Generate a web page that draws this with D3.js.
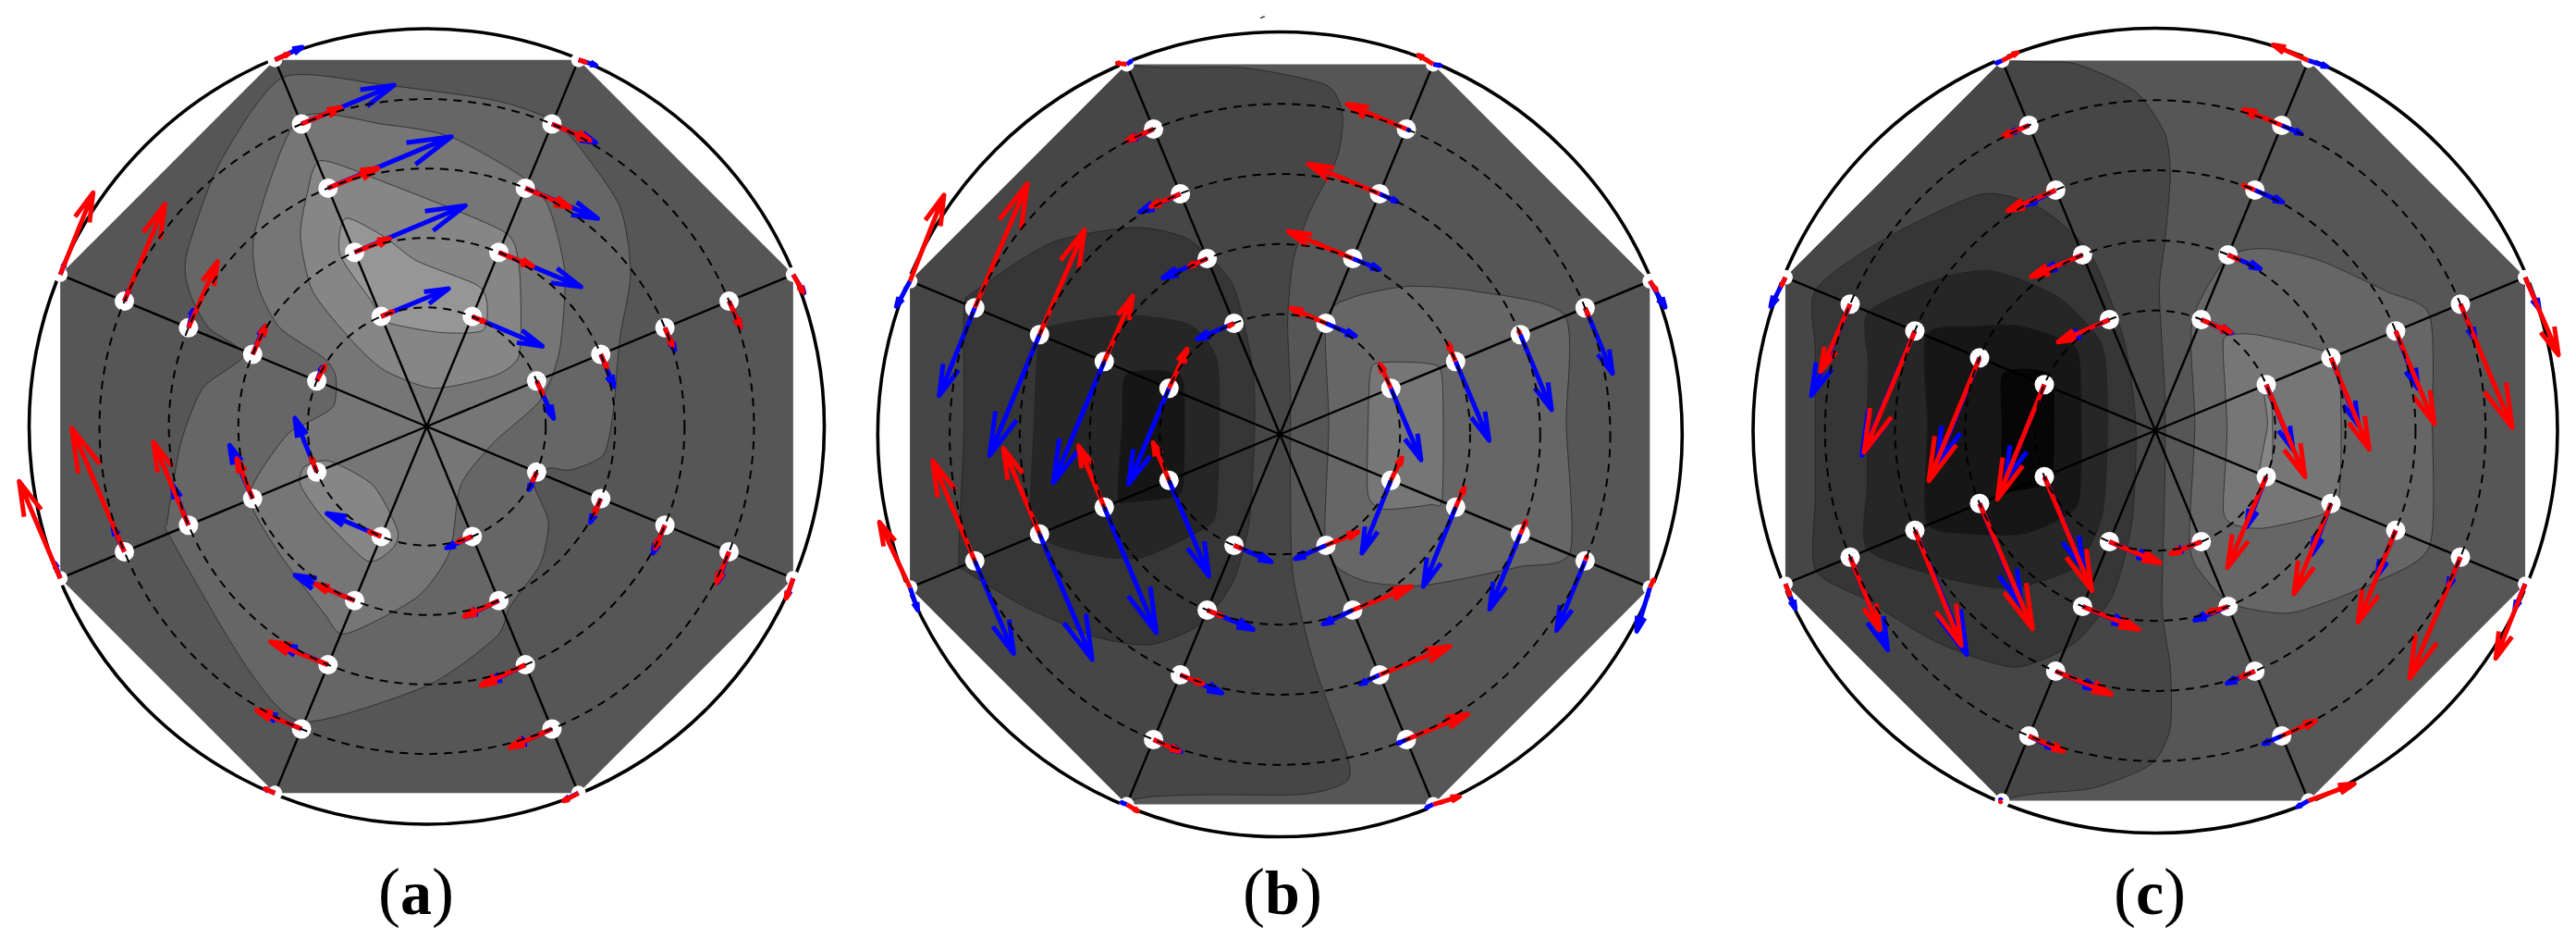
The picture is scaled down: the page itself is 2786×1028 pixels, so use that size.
<!DOCTYPE html>
<html><head><meta charset="utf-8">
<script src="https://cdn.jsdelivr.net/npm/d3@7"></script>
<style>html,body{margin:0;padding:0;background:#fff}svg{display:block}</style>
</head><body><script>
// Radial / angular layout of the measurement grid
const ringFractions=[0.3,0.475,0.65,0.825,1];
const spokeAngles=[67.5,22.5,-22.5,-67.5,-112.5,-157.5,157.5,112.5];
const panelLabels=["a","b","c"];
// Field values (one row per spoke, one entry per ring)
const aBlueU=[128,150,132,80,32, 31,24,18,21,20, -14,-19,-22,-21,-11, -47,-60,-68,-72,-25, -99,-109,-87,-68,-18, -40,-42,-30,-21,-10, 10,21,8,9,8, 123,202,225,169,50];
const aBlueV=[49,57,50,31,9, 62,53,37,43,30, 29,39,46,51,30, 19,26,30,29,11, -38,-42,-33,-26,-7, -89,-88,-67,-41,-25, -23,-45,-29,-20,-18, -46,-77,-85,-64,-21];
const aRedU=[23,62,82,70,13, 11,11,14,21,18, -7,-12,-18,-23,-13, -27,-63,-81,-77,-27, -22,-71,-105,-82,-18, -10,-29,-64,-96,-75, 15,24,53,74,60, 21,64,91,72,25];
const aRedV=[9,23,32,27,4, 22,22,30,43,29, 14,25,38,51,33, 9,26,34,31,13, -8,-27,-38,-31,-7, -24,-66,-137,-204,-160, -25,-47,-109,-160,-135, -8,-23,-33,-27,-10];
const bBlueU=[54,49,32,5,13, 55,61,57,50,28, -53,-59,-56,-52,-24, -56,-54,-35,-15,-12, 68,84,76,50,-9, 73,95,96,71,14, -74,-93,-91,-65,-25, -67,-81,-74,-45,8];
const bBlueV=[21,18,13,2,2, 118,130,124,108,43, 120,131,124,115,72, 22,23,15,6,5, 27,32,30,20,-3, 158,207,207,153,37, 158,200,199,145,42, 26,32,30,19,-5];
const bRedU=[-64,-118,-130,-108,-27, -20,-14,-3,6,12, 20,16,10,3,7, 59,107,128,112,48, 13,27,41,47,20, -29,-47,-66,-77,-56, 33,52,82,96,62, -10,-33,-54,-48,-17];
const bRedV=[-25,-45,-49,-41,-15, -40,-30,-6,13,15, -37,-32,-21,-7,-13, -22,-39,-47,-42,-13, 5,10,15,19,11, -62,-101,-141,-165,-108, -65,-108,-173,-205,-142, 5,13,21,19,-2];
const cBlueU=[56,59,51,36,34, 49,50,41,27,26, -36,-35,-34,-23,-19, -51,-61,-51,-33,-20, 78,83,77,46,-3, 72,77,95,69,18, -71,-78,-97,-71,-27, -82,-72,-53,-34,-10];
const cBlueV=[22,23,20,14,10, 107,111,95,59,53, 83,84,75,50,41, 18,23,20,13,10, 30,31,30,21,-2, 153,169,205,153,41, 157,176,205,151,48, 34,28,24,13,4];
const cRedU=[54,19,-21,-70,-65, 71,70,71,95,61, -71,-68,-69,-93,-54, -56,-36,-26,62,84, 93,103,102,64,-3, 87,97,85,54,8, -86,-93,-93,-54,-7, -94,-94,-88,-47,28];
const cRedV=[21,8,-8,-26,-26, 152,151,153,204,128, 150,149,152,200,123, 20,10,10,-25,-28, 35,38,38,25,2, 188,207,190,120,18, 189,203,200,111,13, 37,36,34,18,-13];
// Contour outlines of the background scalar field: level, then outline
const aLevels=[1,2,3,4,3];
const aContours=[
 [[515,128],[700,140],[900,165],[1000,195],[1050,235],[1130,340],[1150,450],[1130,560],[1118,680],[1100,750],[1040,775],[1000,772],[972,795],[1000,860],[985,930],[930,1000],[905,1050],[780,1130],[553,1190],[450,1100],[310,885],[305,860],[330,730],[370,640],[445,585],[380,540],[345,480],[340,420],[400,270]],
 [[545,195],[700,205],[820,225],[950,290],[1000,340],[1030,450],[1020,580],[985,660],[900,730],[840,800],[820,910],[760,985],[630,1045],[590,1010],[500,900],[455,815],[520,720],[560,697],[608,670],[612,620],[590,590],[510,540],[470,470],[465,380]],
 [[585,265],[700,300],[915,380],[945,430],[950,520],[945,590],[900,620],[790,640],[700,610],[640,560],[570,480],[548,390],[560,320]],
 [[630,360],[700,390],[760,430],[870,470],[888,500],[880,545],[800,548],[700,530],[680,500],[620,420]],
 [[555,770],[600,760],[680,800],[725,875],[715,905],[670,925],[590,855],[548,800]]
];
const bLevels=[-1,-2,-3,-4,1,2];
const bContours=[
 [[495,107],[700,112],[850,140],[880,190],[870,260],[820,350],[790,430],[780,530],[785,650],[785,800],[790,950],[830,1100],[890,1250],[885,1290],[800,1310],[500,1318],[300,1420],[-100,1400],[-100,100],[300,40]],
 [[210,480],[350,400],[500,375],[600,395],[680,470],[715,600],[720,700],[710,860],[680,960],[620,1030],[530,1063],[430,1050],[300,1000],[190,940],[180,920],[190,700],[190,510]],
 [[340,540],[480,520],[600,535],[650,590],[655,700],[650,840],[630,870],[510,920],[400,910],[315,870],[318,700],[325,570]],
 [[483,620],[540,610],[585,620],[592,660],[590,800],[570,820],[490,828],[470,820],[478,700]],
 [[850,525],[900,490],[1000,472],[1120,480],[1285,520],[1288,700],[1295,910],[1200,935],[1030,965],[930,960],[870,935],[848,880],[855,700]],
 [[930,620],[950,598],[1040,600],[1062,625],[1062,820],[1040,832],[960,840],[935,830],[925,800]]
];
const cLevels=[-1,-2,-3,-4,-5,1,2,3];
const cContours=[
 [[530,98],[650,105],[760,150],[815,220],[825,290],[815,400],[805,480],[815,650],[815,800],[810,1000],[825,1100],[825,1200],[790,1260],[680,1300],[525,1318],[300,1420],[-100,1400],[-100,100],[300,40]],
 [[175,478],[300,395],[480,320],[590,345],[680,420],[740,560],[762,700],[755,860],[720,980],[650,1060],[540,1100],[400,1060],[270,990],[175,940],[175,820],[175,700],[175,580]],
 [[272,515],[400,460],[500,447],[620,490],[700,570],[710,700],[700,850],[650,935],[530,970],[400,950],[270,905],[270,800],[270,700],[272,600]],
 [[378,552],[470,538],[550,537],[640,565],[660,600],[662,780],[650,840],[560,880],[450,880],[378,860],[380,700]],
 [[515,620],[550,607],[610,625],[612,780],[600,800],[530,812],[515,805],[515,700]],
 [[930,425],[1000,410],[1100,430],[1220,480],[1300,520],[1305,700],[1300,900],[1200,960],[1050,1010],[950,1000],[920,985],[870,930],[860,880],[870,700],[865,530]],
 [[927,554],[983,552],[1107,579],[1133,600],[1138,712],[1133,823],[1101,849],[995,871],[939,864],[922,839],[929,712],[922,584]],
 [[997,648],[1011,671],[1011,762],[989,773],[1003,701]]
];
const levelDomain=[-5,4];
const grayRange=[6,150];
// small stray mark printed above panel (b), in that panel's field units
const bSpeck=[[730,30],[738,27]];

const W=2786,H=1028;
const panels=[
 {key:"a",off:0,w:930,cx:461.5,cy:461,R:429,Rc:430,bu:aBlueU,bv:aBlueV,ru:aRedU,rv:aRedV,levels:aLevels,contours:aContours},
 {key:"b",off:930,w:930,cx:1384.3,cy:469.5,R:433,Rc:435,bu:bBlueU,bv:bBlueV,ru:bRedU,rv:bRedV,levels:bLevels,contours:bContours,speck:bSpeck},
 {key:"c",off:1860,w:926,cx:2331,cy:465.5,R:433,Rc:435,bu:cBlueU,bv:cBlueV,ru:cRedU,rv:cRedV,levels:cLevels,contours:cContours}
];
const labelX=[450,1387,2325], labelY=988;
const fieldDomain=[0,1568];
const gray=d3.scaleLinear().domain(levelDomain).range(grayRange);
const grayOf=l=>{const g=Math.round(gray(l));return `rgb(${g},${g},${g})`;};

const svg=d3.select("body").append("svg").attr("width",W).attr("height",H).attr("viewBox",`0 0 ${W} ${H}`);
const rad=d=>d*Math.PI/180;
const closedCurve=(x,y)=>d3.line().x(d=>x(d[0])).y(d=>y(d[1])).curve(d3.curveCardinalClosed.tension(0.3));

function arrowPath(x0,y0,dx,dy){
  const len=Math.hypot(dx,dy); if(len<0.5) return "";
  const p=d3.path(); const x1=x0+dx,y1=y0+dy;
  p.moveTo(x0,y0); p.lineTo(x1,y1);
  const b=0.34*len, a=Math.atan2(dy,dx), s=rad(15);
  p.moveTo(x1-b*Math.cos(a-s),y1-b*Math.sin(a-s));
  p.lineTo(x1,y1);
  p.lineTo(x1-b*Math.cos(a+s),y1-b*Math.sin(a+s));
  return p.toString();
}

panels.forEach((P,pi)=>{
  const x=d3.scaleLinear().domain(fieldDomain).range([P.off,P.off+P.w]);
  const y=d3.scaleLinear().domain(fieldDomain).range([0,H]);
  const u=d3.scaleLinear().domain(fieldDomain).range([0,P.w]);
  const v=d3.scaleLinear().domain(fieldDomain).range([0,H]);
  const r=d3.scaleLinear().domain([0,1]).range([0,P.R]);
  const g=svg.append("g").attr("class","panel-"+P.key);
  const node=(si,ri)=>[P.cx+r(ringFractions[ri])*Math.cos(rad(spokeAngles[si])),P.cy-r(ringFractions[ri])*Math.sin(rad(spokeAngles[si]))];
  const octPts=spokeAngles.map((_,si)=>node(si,4));
  const oct="M"+octPts.map(d=>d.join(",")).join("L")+"Z";
  const clipId="clip-"+P.key;
  svg.append("clipPath").attr("id",clipId).append("path").attr("d",oct);
  g.append("path").attr("d",oct).attr("fill",grayOf(0));
  const cg=g.append("g").attr("clip-path",`url(#${clipId})`);
  const line=closedCurve(x,y);
  cg.selectAll("path").data(P.contours).join("path")
    .attr("d",line)
    .attr("fill",(d,i)=>grayOf(P.levels[i]))
    .attr("stroke","#202020").attr("stroke-opacity",0.7).attr("stroke-width",1);
  // spokes
  g.selectAll("line.spoke").data(spokeAngles).join("line").attr("class","spoke")
    .attr("x1",P.cx).attr("y1",P.cy)
    .attr("x2",(d,i)=>node(i,4)[0]).attr("y2",(d,i)=>node(i,4)[1])
    .attr("stroke","#000").attr("stroke-width",2.4);
  // outer boundary
  g.append("circle").attr("cx",P.cx).attr("cy",P.cy).attr("r",P.Rc).attr("fill","none").attr("stroke","#000").attr("stroke-width",3.6);
  // grid nodes
  const nodes=[];
  spokeAngles.forEach((_,si)=>ringFractions.forEach((_,ri)=>{
    const [nx,ny]=node(si,ri);nodes.push({nx,ny,i:si*5+ri});
  }));
  g.append("g").selectAll("circle").data(nodes).join("circle")
    .attr("cx",d=>d.nx).attr("cy",d=>d.ny).attr("r",(d)=>d.i%5===4?8:10.5).attr("fill","#fff");
  // blue then red vectors
  const draw=(cu,cv,col)=>g.append("g").selectAll("path").data(nodes).join("path")
    .attr("d",d=>arrowPath(d.nx,d.ny,u(cu[d.i]),v(cv[d.i])))
    .attr("fill","none").attr("stroke",col).attr("stroke-width",5).attr("stroke-linejoin","round");
  draw(P.bu,P.bv,"#0000ff");
  draw(P.ru,P.rv,"#ff0000");
  // dashed rings over the vectors
  g.append("g").selectAll("circle").data(ringFractions.slice(0,4)).join("circle")
    .attr("cx",P.cx).attr("cy",P.cy).attr("r",d=>r(d)).attr("fill","none")
    .attr("stroke","#000").attr("stroke-width",2).attr("stroke-dasharray","9 7");
  if(P.speck) g.append("path").attr("d",d3.line().x(d=>x(d[0])).y(d=>y(d[1]))(P.speck)).attr("stroke","#333").attr("stroke-width",1.5).attr("fill","none");
  // label
  const t=g.append("text").attr("x",labelX[pi]).attr("y",labelY).attr("text-anchor","middle")
    .attr("font-family","'Liberation Serif',serif").attr("font-size",72).attr("fill","#000");
  t.append("tspan").text("(");
  t.append("tspan").attr("font-weight","bold").attr("font-size",68).text(panelLabels[pi]);
  t.append("tspan").text(")");
});
</script></body></html>
